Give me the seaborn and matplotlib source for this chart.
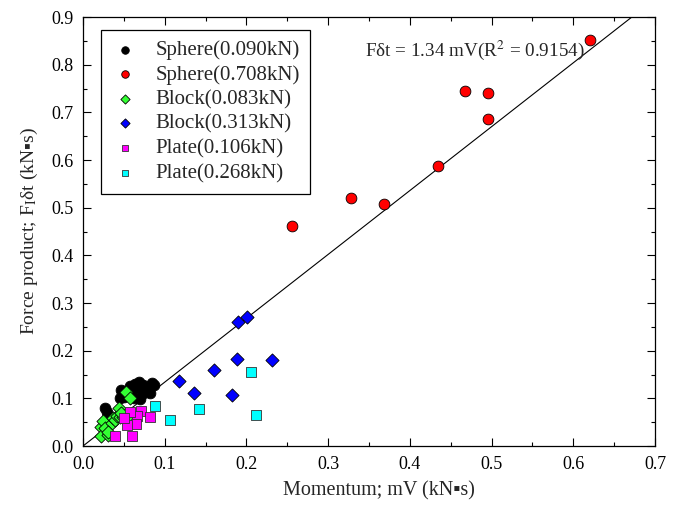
import matplotlib
matplotlib.use("Agg")
import matplotlib.pyplot as plt
import seaborn as sns
import numpy as np
import pandas as pd

# Sphere (0.090 kN)
sphere_s_x = [0.027, 0.029, 0.030, 0.045, 0.047, 0.050, 0.055, 0.058, 0.060, 0.062, 0.064,
              0.066, 0.068, 0.070, 0.072, 0.074, 0.076, 0.078, 0.080, 0.082, 0.084, 0.087]
sphere_s_y = [0.079, 0.072, 0.062, 0.100, 0.117, 0.103, 0.107, 0.125, 0.117, 0.100, 0.130,
              0.124, 0.135, 0.098, 0.110, 0.128, 0.118, 0.117, 0.124, 0.112, 0.133, 0.128]
# Sphere (0.708 kN)
sphere_l_x = [0.256, 0.328, 0.368, 0.434, 0.468, 0.496, 0.496, 0.620]
sphere_l_y = [0.462, 0.520, 0.508, 0.588, 0.745, 0.741, 0.686, 0.852]
# Block (0.083 kN)
block_s_x = [0.022, 0.022, 0.031, 0.025, 0.027, 0.035, 0.037, 0.039, 0.042, 0.045,
             0.049, 0.051, 0.055, 0.044, 0.052, 0.058, 0.030, 0.047]
block_s_y = [0.040, 0.022, 0.023, 0.052, 0.037, 0.049, 0.059, 0.054, 0.063, 0.061,
             0.061, 0.065, 0.054, 0.079, 0.113, 0.101, 0.030, 0.070]
# Block (0.313 kN)
block_l_x = [0.190, 0.201, 0.189, 0.231, 0.160, 0.118, 0.136, 0.182]
block_l_y = [0.260, 0.271, 0.183, 0.180, 0.160, 0.136, 0.111, 0.108]
# Plate (0.106 kN)
plate_s_x = [0.071, 0.082, 0.066, 0.058, 0.065, 0.054, 0.060, 0.039, 0.050]
plate_s_y = [0.074, 0.061, 0.064, 0.071, 0.047, 0.044, 0.020, 0.022, 0.058]
# Plate (0.268 kN)
plate_l_x = [0.205, 0.142, 0.106, 0.212, 0.088]
plate_l_y = [0.156, 0.078, 0.055, 0.065, 0.084]

# Linear fit through the origin
fit_slope = 1.34
fit_r2 = 0.9154

series = [
    ("Sphere(0.090kN)", sphere_s_x, sphere_s_y, "o", "#000000", 60),
    ("Sphere(0.708kN)", sphere_l_x, sphere_l_y, "o", "#ff0000", 60),
    ("Block(0.083kN)", block_s_x, block_s_y, "D", "#33ff33", 45),
    ("Block(0.313kN)", block_l_x, block_l_y, "D", "#0000ff", 45),
    ("Plate(0.106kN)", plate_s_x, plate_s_y, "s", "#ff00ff", 45),
    ("Plate(0.268kN)", plate_l_x, plate_l_y, "s", "#00ffff", 45),
]

sns.set_style("ticks")
plt.rcParams["font.family"] = ["Liberation Serif", "DejaVu Sans"]
plt.rcParams["mathtext.fontset"] = "stix"

fig = plt.figure(figsize=(6.76, 5.05), dpi=100)
ax = fig.add_axes([0.1228, 0.1168, 0.8462, 0.8495])

xlim = (0.0, 0.7)
line_x = np.array(xlim)
line_df = pd.DataFrame({"x": line_x, "y": fit_slope * line_x})
sns.lineplot(data=line_df, x="x", y="y", color="black", linewidth=0.8, ax=ax,
             zorder=1, legend=False)

for label, xs, ys, marker, color, size in series:
    df = pd.DataFrame({"x": xs, "y": ys})
    edge = "#333333" if marker == "s" else "black"
    sns.scatterplot(data=df, x="x", y="y", marker=marker, color=color, s=size,
                    edgecolor=edge, linewidth=0.6, ax=ax, label=label, zorder=3)

ax.set_xlim(*xlim)
ax.set_ylim(0.0, 0.9)
ax.set_xticks(np.arange(0, 0.71, 0.1))
ax.set_yticks(np.arange(0, 0.91, 0.1))
ax.set_xticks(np.arange(0.05, 0.7, 0.1), minor=True)
ax.set_yticks(np.arange(0.05, 0.9, 0.1), minor=True)
ax.xaxis.set_major_formatter(matplotlib.ticker.FormatStrFormatter("%.1f"))
ax.yaxis.set_major_formatter(matplotlib.ticker.FormatStrFormatter("%.1f"))
ax.tick_params(which="both", direction="in", top=True, right=True, labelsize=13,
               width=0.8, colors="black")
ax.tick_params(which="major", length=6, pad=7)
ax.tick_params(which="minor", length=3)
for sp in ax.spines.values():
    sp.set_linewidth(0.9)
    sp.set_color("black")

ax.set_xlabel("Momentum; mV (kN\u25aas)", fontsize=14.5, labelpad=8)
ax.xaxis.set_label_coords(0.517, -0.083)
ax.set_ylabel("Force product; F$_{\\mathrm{I}}$\u03b4t (kN\u25aas)", fontsize=14, labelpad=8)

ax.text(0.345, 0.831, "F\u03b4t = %.2f mV(R$^2$ = %.4f)" % (fit_slope, fit_r2),
        fontsize=13.8, ha="left", va="center")

leg = ax.legend(loc="upper left", bbox_to_anchor=(0.0315, 0.970), fontsize=15,
                frameon=True, fancybox=False, edgecolor="black", framealpha=1,
                handletextpad=0.8, labelspacing=0.24, borderpad=0.5,
                markerscale=0.7, handlelength=1.3, borderaxespad=0)
leg.get_frame().set_linewidth(0.9)

fig.savefig("out.png", dpi=100)
